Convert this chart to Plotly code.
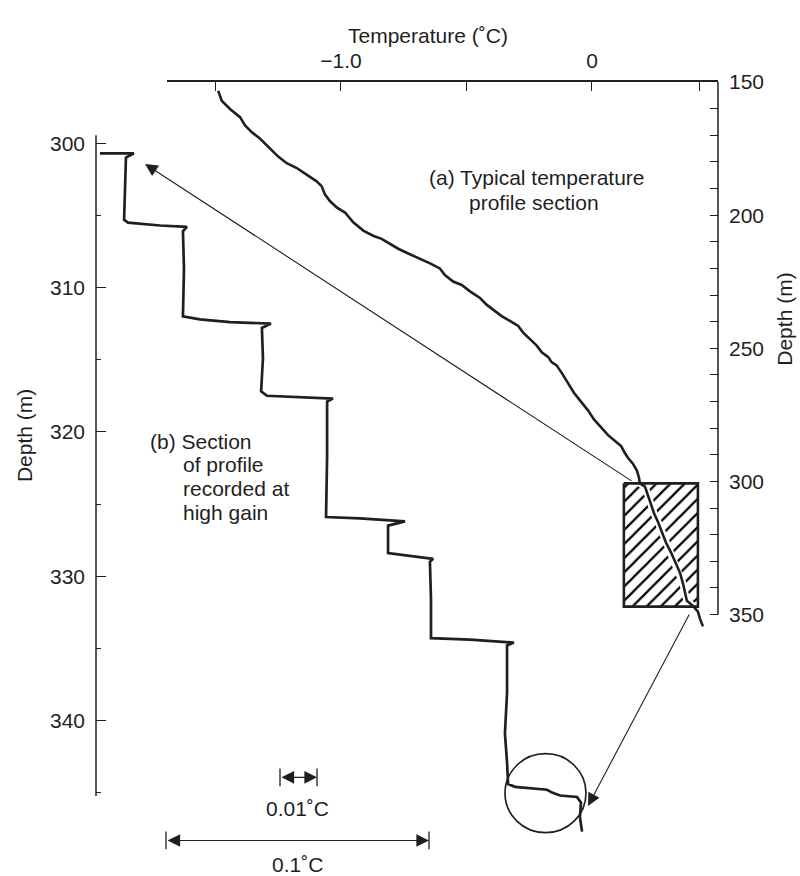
import plotly.graph_objects as go

W, H = 800, 876
INK = "#1f1f1f"
FONT = "Liberation Sans"
FS = 21

# ---------------- data ----------------
# (a) Typical temperature profile section: temperature (deg C) vs depth (m)
profile_temp = [-1.489, -1.475, -1.442, -1.402, -1.382, -1.356, -1.323, -1.283, -1.250, -1.216,
                -1.176, -1.137, -1.097, -1.077, -1.064, -1.044, -1.017, -0.984, -0.951, -0.911,
                -0.872, -0.838, -0.805, -0.772, -0.732, -0.685, -0.645, -0.606, -0.586, -0.553,
                -0.519, -0.486, -0.446, -0.420, -0.393, -0.360, -0.327, -0.294, -0.274, -0.247,
                -0.220, -0.200, -0.174, -0.161, -0.141, -0.120, -0.096, -0.072, -0.044, -0.016,
                0.008, 0.036, 0.064, 0.092, 0.116, 0.131, 0.143, 0.163, 0.179, 0.187,
                0.191, 0.211, 0.223, 0.235, 0.247, 0.263, 0.279, 0.295, 0.315, 0.331,
                0.351, 0.363, 0.371, 0.378, 0.402, 0.422, 0.430, 0.442]
profile_depth = [153.3, 157.0, 160.1, 163.2, 166.3, 168.8, 171.2, 174.9, 178.0, 180.5,
                 182.3, 184.8, 187.3, 189.1, 192.2, 194.7, 197.1, 199.0, 202.7, 205.8,
                 207.7, 208.9, 210.7, 212.6, 214.4, 216.3, 218.1, 220.0, 222.5, 224.9,
                 226.2, 228.6, 231.1, 233.6, 235.4, 237.9, 239.7, 241.6, 244.1, 246.6,
                 249.0, 251.5, 253.3, 255.2, 256.4, 259.3, 263.0, 266.7, 270.0, 273.3,
                 276.7, 279.6, 282.6, 284.8, 286.7, 289.3, 291.1, 293.3, 295.9, 298.5,
                 300.7, 301.9, 305.2, 308.9, 311.9, 315.2, 318.9, 323.0, 326.7, 330.4,
                 334.4, 338.5, 342.2, 344.8, 346.7, 348.9, 351.5, 354.4]

# section recorded at high gain (hatched box on profile a)
section_temp = [0.127, 0.422]
section_depth = [300.7, 347.0]

# (b) high-gain record: relative temperature (millidegrees C) vs depth (m)
gain_temp_mk = [1.5, 14.3, 11.3, 10.9, 10.6, 12.1, 24.2, 34.3, 32.8, 33.2,
                32.8, 39.2, 50.6, 66.0, 62.6, 63.0, 62.3, 64.5, 77.0, 89.4,
                87.2, 87.2, 86.8, 99.6, 116.6, 110.2, 110.2, 118.5, 127.2, 126.0,
                126.4, 126.4, 141.1, 157.7, 155.1, 155.1, 154.3, 155.1, 155.5, 158.1,
                165.7, 170.2, 172.1, 175.1, 181.5, 183.0, 182.6, 183.4]
gain_depth = [300.7, 300.7, 301.0, 303.3, 305.3, 305.5, 305.7, 305.8, 306.1, 308.7,
              312.0, 312.2, 312.4, 312.5, 312.8, 314.9, 317.2, 317.5, 317.6, 317.7,
              317.9, 321.7, 325.9, 326.0, 326.2, 326.5, 328.4, 328.6, 328.8, 329.0,
              331.6, 334.3, 334.4, 334.6, 334.8, 338.1, 340.9, 342.9, 344.4, 344.6,
              344.7, 344.8, 345.0, 345.2, 345.3, 345.7, 346.7, 347.7]

# axis ticks
temp_tickvals = [-1.5, -1.0, -0.5, 0.0, 0.43]
temp_ticktext = ["", "\u22121.0", "", "0", ""]
right_depth_ticks = [150, 160, 170, 180, 190, 200, 210, 220, 230, 240, 250, 260, 270,
                     280, 290, 300, 310, 320, 330, 340, 350]
right_depth_labels = ["150", "", "", "", "", "200", "", "", "", "", "250", "", "", "",
                      "", "300", "", "", "", "", "350"]
left_major_ticks = [300, 310, 320, 330, 340]
left_minor_ticks = [305, 315, 325, 335, 345]


def px(x):
    return x / W


def py(y):
    return 1 - y / H


fig = go.Figure()

box_x = [section_temp[0], section_temp[1], section_temp[1], section_temp[0], section_temp[0]]
box_y = [section_depth[0], section_depth[0], section_depth[1], section_depth[1], section_depth[0]]

# hatched box (section recorded at high gain)
fig.add_trace(go.Scatter(
    x=box_x, y=box_y, mode="lines", fill="toself", fillcolor="white",
    fillpattern=dict(shape="/", fgcolor="#000000", bgcolor="white", size=10, solidity=0.22,
                     fgopacity=1),
    line=dict(color=INK, width=0), xaxis="x", yaxis="y", hoverinfo="skip"))

# profile (a): white halo so the hatching breaks around the curve
fig.add_trace(go.Scatter(x=profile_temp, y=profile_depth, mode="lines",
                         line=dict(color="white", width=7), xaxis="x", yaxis="y",
                         hoverinfo="skip"))
# box outline on top of the halo
fig.add_trace(go.Scatter(x=box_x, y=box_y, mode="lines", line=dict(color=INK, width=2.6),
                         xaxis="x", yaxis="y", hoverinfo="skip"))
# the profile curve itself
fig.add_trace(go.Scatter(x=profile_temp, y=profile_depth, mode="lines",
                         line=dict(color=INK, width=2.6), xaxis="x", yaxis="y"))

# staircase (b)
fig.add_trace(go.Scatter(x=gain_temp_mk, y=gain_depth, mode="lines",
                         line=dict(color=INK, width=2.7), xaxis="x2", yaxis="y2"))

tickfont = dict(family=FONT, size=FS, color=INK)

fig.update_layout(
    width=W, height=H, margin=dict(l=0, r=0, t=0, b=0),
    paper_bgcolor="white", plot_bgcolor="rgba(0,0,0,0)", showlegend=False,
    font=dict(family=FONT, size=FS, color=INK),
    xaxis=dict(domain=[px(167), px(718)], range=[-1.693, 0.502], side="top", anchor="y",
               showgrid=False, zeroline=False, showline=True, linecolor=INK, linewidth=1.5,
               ticks="inside", ticklen=9, tickwidth=1.3, tickcolor=INK,
               tickmode="array", tickvals=temp_tickvals, ticktext=temp_ticktext,
               tickfont=tickfont, ticklabelstandoff=4),
    yaxis=dict(domain=[py(640), py(71)], range=[360.74, 150], side="right", anchor="x",
               showgrid=False, zeroline=False, showline=False,
               ticks="inside", ticklen=8, tickwidth=1.3, tickcolor=INK,
               tickmode="array", tickvals=right_depth_ticks, ticktext=right_depth_labels,
               tickfont=tickfont, ticklabelstandoff=10),
    xaxis2=dict(domain=[px(96), px(718)], range=[0, 234.7], anchor="y2", visible=False),
    yaxis2=dict(domain=[py(850), py(125)], range=[349.0, 299.45], side="left", anchor="x2",
                showgrid=False, zeroline=False, showline=False,
                ticks="inside", ticklen=10, tickwidth=1.3, tickcolor=INK,
                tickmode="array", tickvals=left_major_ticks,
                ticktext=[str(v) for v in left_major_ticks],
                tickfont=tickfont, ticklabelstandoff=10,
                minor=dict(tickmode="array", tickvals=left_minor_ticks, ticks="inside",
                           ticklen=5, tickwidth=1.3, tickcolor=INK, showgrid=False)),
)

shapes = [
    # right depth axis line
    dict(type="line", xref="paper", yref="paper", x0=px(718), x1=px(718), y0=py(71), y1=py(611),
         line=dict(color=INK, width=1.5)),
    # left depth axis line
    dict(type="line", xref="paper", yref="paper", x0=px(96), x1=px(96), y0=py(125), y1=py(795),
         line=dict(color=INK, width=1.5)),
    # circle around the lower part of the high-gain record
    dict(type="circle", xref="paper", yref="paper", x0=px(505), x1=px(586), y0=py(832), y1=py(752),
         line=dict(color=INK, width=1.7)),
    # scale bar end ticks
    dict(type="line", xref="paper", yref="paper", x0=px(280), x1=px(280), y0=py(767), y1=py(785),
         line=dict(color=INK, width=1.3)),
    dict(type="line", xref="paper", yref="paper", x0=px(317), x1=px(317), y0=py(767), y1=py(785),
         line=dict(color=INK, width=1.3)),
    dict(type="line", xref="paper", yref="paper", x0=px(166), x1=px(166), y0=py(831), y1=py(849),
         line=dict(color=INK, width=1.3)),
    dict(type="line", xref="paper", yref="paper", x0=px(429), x1=px(429), y0=py(831), y1=py(849),
         line=dict(color=INK, width=1.3)),
]
fig.update_layout(shapes=shapes)

arrow_common = dict(xref="paper", yref="paper", axref="pixel", ayref="pixel", text="",
                    showarrow=True, arrowhead=2, arrowsize=2.3, arrowwidth=1.1, arrowcolor=INK)

txt = dict(xref="paper", yref="paper", showarrow=False, yanchor="middle", font=dict(size=FS))

annotations = [
    # arrows from profile section to the high-gain record
    dict(x=px(145), y=py(154), ax=633 - 145, ay=472 - 154, **arrow_common),
    dict(x=px(588), y=py(805), ax=690 - 588, ay=612 - 805, **arrow_common),
    # scale bars
    dict(x=px(317), y=py(776), ax=-(317 - 280), ay=0, arrowside="end+start",
         startarrowhead=2, startarrowsize=2.3, **arrow_common),
    dict(x=px(429), y=py(840), ax=-(429 - 166), ay=0, arrowside="end+start",
         startarrowhead=2, startarrowsize=2.3, **arrow_common),
    dict(x=px(297), y=py(808), text="0.01\u02daC", xanchor="center", **txt),
    dict(x=px(297), y=py(864), text="0.1\u02daC", xanchor="center", **txt),
    # axis titles
    dict(x=px(428), y=py(24), text="Temperature (\u02daC)", xanchor="center", **txt),
    dict(x=px(24), y=py(430), text="Depth (m)", textangle=-90, xanchor="center", **txt),
    dict(x=px(785), y=py(312), text="Depth (m)", textangle=-90, xanchor="center", **txt),
    # labels
    dict(x=px(537), y=py(168), text="(a) Typical temperature", xanchor="center", **txt),
    dict(x=px(534), y=py(193), text="profile section", xanchor="center", **txt),
    dict(x=px(148), y=py(435), text="(b) Section", xanchor="left", **txt),
    dict(x=px(181), y=py(459), text="of profile", xanchor="left", **txt),
    dict(x=px(181), y=py(483), text="recorded at", xanchor="left", **txt),
    dict(x=px(181), y=py(507), text="high gain", xanchor="left", **txt),
]
fig.update_layout(annotations=annotations)

fig.write_html("out.html")
